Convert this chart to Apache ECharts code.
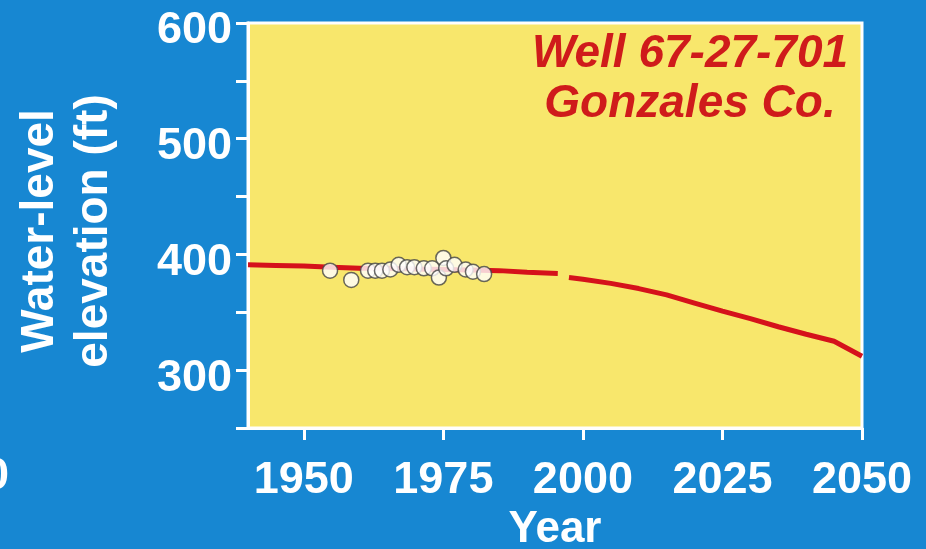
<!DOCTYPE html>
<html>
<head>
<meta charset="utf-8">
<script src="https://cdn.jsdelivr.net/npm/echarts@6/dist/echarts.min.js"></script>
<style>
html,body{margin:0;padding:0;background:#1787d2;}
#chart{width:926px;height:549px;}
</style>
</head>
<body>
<div id="chart"></div>
<script>
// Simulated / projected water level (ft), null = gap in the line
const lineYears  = [1940, 1945, 1950, 1955, 1960, 1965, 1970, 1975, 1980, 1985, 1990, 1995.5, 1996.5, 1997.5, 2000, 2005, 2010, 2015, 2020, 2025, 2030, 2035, 2040, 2045, 2050];
const lineValues = [391, 390.5, 390, 389, 388, 388, 387.5, 387, 386.5, 386, 384.5, 383.5, null, 380, 378.5, 375, 370.5, 365, 358, 351, 344.5, 337.5, 331, 325, 312];

// Measured water levels (ft)
const obsYears  = [1954.7, 1958.5, 1961.5, 1962.8, 1964, 1965.5, 1967, 1968.5, 1969.8, 1971.5, 1973, 1974.2, 1975, 1975.5, 1977, 1979, 1980.3, 1982.3];
const obsValues = [386, 378, 386, 386, 386, 387, 391, 389, 389, 388, 388, 380, 397, 388, 391, 387, 385, 383];

const xTickLabels = [1950, 1975, 2000, 2025, 2050];
const yTickLabels = [300, 400, 500, 600];

const titleLines = ['Well 67-27-701', 'Gonzales Co.'];
const yNameLines = ['Water-level', 'elevation (ft)'];

const FONT = '"Liberation Sans", Arial, sans-serif';
const WHITE = '#ffffff';

const chart = echarts.init(document.getElementById('chart'));
chart.setOption({
  backgroundColor: '#1787d2',
  animation: false,
  grid: {
    left: 248, right: 64, top: 23, bottom: 121,
    outerBoundsMode: 'none',
    containLabel: false,
    show: true,
    backgroundColor: '#f8e76c',
    borderColor: WHITE,
    borderWidth: 3
  },
  xAxis: {
    type: 'value',
    min: 1940, max: 2050,
    name: 'Year',
    nameLocation: 'middle',
    nameGap: 78,
    nameTextStyle: { color: WHITE, fontFamily: FONT, fontWeight: 'bold', fontSize: 44 },
    axisLine: { show: true, onZero: false, lineStyle: { color: WHITE, width: 3 } },
    axisTick: { show: true, length: 12, customValues: xTickLabels, lineStyle: { color: WHITE, width: 3 } },
    axisLabel: {
      customValues: xTickLabels,
      formatter: function (v) { return String(v); },
      color: WHITE, fontFamily: FONT, fontWeight: 'bold', fontSize: 45,
      margin: 30
    },
    splitLine: { show: false }
  },
  yAxis: {
    type: 'value',
    min: 250, max: 600, interval: 50,
    axisLine: { show: true, lineStyle: { color: WHITE, width: 3 } },
    axisTick: { show: true, length: 12, lineStyle: { color: WHITE, width: 3 } },
    axisLabel: {
      margin: 16,
      formatter: function (v) { return yTickLabels.indexOf(v) >= 0 ? '{v|' + v + '}' : ''; },
      rich: {
        v: {
          color: WHITE, fontFamily: FONT, fontWeight: 'bold', fontSize: 45,
          padding: [16, 0, 0, 0]
        }
      }
    },
    splitLine: { show: false }
  },
  graphic: [
    {
      type: 'text', x: 690, y: 54,
      style: { text: titleLines[0], fill: '#cf1b1b', font: 'italic bold 46px ' + FONT, textAlign: 'center', textVerticalAlign: 'middle' }
    },
    {
      type: 'text', x: 690, y: 104,
      style: { text: titleLines[1], fill: '#cf1b1b', font: 'italic bold 46px ' + FONT, textAlign: 'center', textVerticalAlign: 'middle' }
    },
    {
      type: 'text', x: 40, y: 231, rotation: Math.PI / 2,
      style: { text: yNameLines[0], fill: WHITE, font: 'bold 46px ' + FONT, textAlign: 'center', textVerticalAlign: 'middle' }
    },
    {
      type: 'text', x: 94, y: 231, rotation: Math.PI / 2,
      style: { text: yNameLines[1], fill: WHITE, font: 'bold 46px ' + FONT, textAlign: 'center', textVerticalAlign: 'middle' }
    },
    {
      type: 'text', x: -16, y: 477,
      style: { text: '0', fill: WHITE, font: 'bold 45px ' + FONT, textAlign: 'left', textVerticalAlign: 'middle' }
    }
  ],
  series: [
    {
      type: 'line',
      data: lineYears.map((y, i) => [y, lineValues[i]]),
      showSymbol: false,
      connectNulls: false,
      lineStyle: { color: '#d5121b', width: 5 },
      z: 2
    },
    {
      type: 'scatter',
      data: obsYears.map((y, i) => [y, obsValues[i]]),
      symbol: 'circle',
      symbolSize: 15,
      itemStyle: { color: '#ffffff', borderColor: '#444444', borderWidth: 1.5 },
      z: 3
    }
  ]
});
</script>
</body>
</html>
